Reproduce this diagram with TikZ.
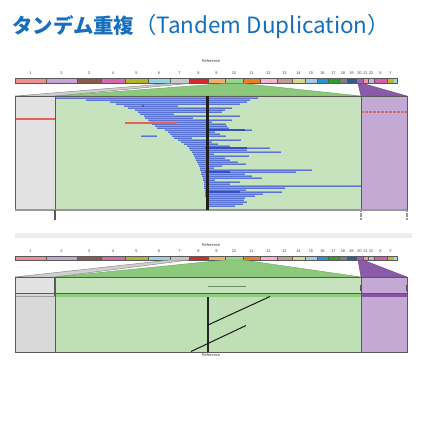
\documentclass[tikz,border=0pt]{standalone}
\usepackage{fontspec}
\newfontfamily\jpfont{Noto Sans CJK JP}
\newfontfamily\tinyfont{Liberation Sans}
\definecolor{titleblue}{RGB}{22,110,190}
\definecolor{c1}{HTML}{F08E8E}
\definecolor{c2}{HTML}{C4A5D4}
\definecolor{c3}{HTML}{8C5A4A}
\definecolor{c4}{HTML}{D768B0}
\definecolor{c5}{HTML}{B4B42A}
\definecolor{c6}{HTML}{92D5E0}
\definecolor{c7}{HTML}{C8C8C8}
\definecolor{c8}{HTML}{D42A2A}
\definecolor{c9}{HTML}{F5AE6A}
\definecolor{c10}{HTML}{96D58A}
\definecolor{c11}{HTML}{EE7F1E}
\definecolor{c12}{HTML}{F5B5D0}
\definecolor{c13}{HTML}{C09C92}
\definecolor{c14}{HTML}{D8D88A}
\definecolor{c15}{HTML}{A9C6E6}
\definecolor{c16}{HTML}{2496CF}
\definecolor{c17}{HTML}{2CA02C}
\definecolor{c18}{HTML}{7F7F7F}
\definecolor{c19}{HTML}{2A5F96}
\definecolor{c20}{HTML}{9368BC}
\definecolor{c21}{HTML}{FF9696}
\definecolor{c22}{HTML}{C9B2D8}
\definecolor{cX}{HTML}{D65CA6}
\definecolor{cY}{HTML}{BCBD22}
\definecolor{cMT}{HTML}{9DDCE8}
\definecolor{boxgray}{HTML}{E2E2E2}
\definecolor{boxgrayd}{HTML}{D8D8D8}
\definecolor{boxgreen}{HTML}{C6E3BE}
\definecolor{boxgreend}{HTML}{BFE0B5}
\definecolor{boxpurple}{HTML}{C3A9D4}
\definecolor{trigray}{HTML}{CFCFCF}
\definecolor{trigreen}{HTML}{8DC97C}
\definecolor{tripurple}{HTML}{8A5BA9}
\definecolor{bandgreen}{HTML}{8FCC7E}
\definecolor{bandpurple}{HTML}{8753A8}
\definecolor{barblue}{RGB}{88,114,214}
\definecolor{barlight}{RGB}{140,162,224}
\definecolor{bardark}{RGB}{52,80,195}
\definecolor{redline}{HTML}{E8605A}
\definecolor{outl}{HTML}{5A5A5A}
\definecolor{sepgray}{HTML}{EDEDED}
\newcommand\chrbar[3]{%
  \foreach \xa/\xb/\nm/\col in {15/46/1/c1,46/77/2/c2,77/101/3/c3,101/125/4/c4,125/148/5/c5,148/170/6/c6,170/189/7/c7,189/208/8/c8,208/225/9/c9,225/243/10/c10,243/260/11/c11,260/277/12/c12,277/292/13/c13,292/305/14/c14,305/317/15/c15,317/328/16/c16,328/339/17/c17,339/347/18/c18,347/356/19/c19,356/363/20/c20,363/368/21/c21,368/374/22/c22,374/387/X/cX,387/394/Y/cY}{%
    \fill[\col] (\xa,#1) rectangle (\xb,#2);
    \draw[chrline] (\xa,#1) -- (\xa,#2);
    \node[chrlab] (lab#3\nm) at ({(\xa+\xb)/2},#3) {\nm};
  }
  \fill[cMT] (394,#1) rectangle (397,#2);
  \draw[chrline] (15,#1) rectangle (397,#2);
}
\begin{document}
\begin{tikzpicture}[x=1bp,y=-1bp,
  chrline/.style={draw=outl,line width=0.5bp},
  chrlab/.style={font=\tinyfont\fontsize{4}{4}\selectfont,text=black!70,inner sep=0pt},
  reflab/.style={font=\tinyfont\fontsize{4}{4}\selectfont,text=black!75,inner sep=0pt},
  boxline/.style={draw=outl,line width=0.8bp},
  readband/.style={draw=barlight,line width=1.8bp},
  read/.style={draw=barblue,line width=1.0bp},
  readdark/.style={draw=bardark,line width=1.8bp},
  tick/.style={draw=outl,line width=1.2bp}]
\useasboundingbox (0,0) rectangle (422,430);
% title
\node[anchor=west,text=titleblue,inner sep=0pt] (title) at (12,26)
  {\jpfont\fontsize{20.5}{21}\selectfont\bfseries タンデム重複\mdseries\fontsize{22.5}{23}\selectfont（Tandem Duplication）};

% ================= panel 1 =================
\node[reflab] (ref1) at (211,61) {Reference};
\chrbar{78.5}{83.5}{73}
% trapezoids
\filldraw[fill=trigray,draw=black!45,line width=0.5bp] (170,83.5) -- (189,83.5) -- (55,96) -- (15,96) -- cycle;
\filldraw[fill=trigreen,draw=trigreen!80!black,line width=0.4bp] (225,83.5) -- (243,83.5) -- (361,96) -- (55,96) -- cycle;
\filldraw[fill=tripurple,draw=tripurple!80!black,line width=0.4bp] (358,83.5) -- (363,83.5) -- (407,96) -- (361,96) -- cycle;
% boxes
\fill[boxgray] (15,96) rectangle (55,210);
\fill[boxgreen] (55,96) rectangle (361,210);
\fill[boxpurple] (361,96) rectangle (407,210);
% red lines
\draw[redline,line width=1.6bp] (15,119) -- (55,119);
\draw[redline,line width=1.6bp,dash pattern=on 3bp off 1bp] (361,112) -- (407,112);
% reads
\foreach \yy/\xa/\xb in {98/55/258,100/86/250,102/110/247,104/116/240,106/124/178,108/128/232,110/135/225,112/138/222,114/140/174,116/144/240,118/145/193,120/148/232,122/150/212,124/152/226,126/155/227,128/157/229,130/165/252,132/168/215,134/170/220,136/141/157,136/172/226,138/174/192,140/178/241,142/181/212,144/184/218,146/187/230,148/189/270,150/190/247,152/192/281,154/193/214,156/194/249,158/195/225,160/196/230,162/197/238,164/198/246,166/199/222,168/200/214,170/200/312,172/201/296,174/201/245,176/202/252,178/203/262,180/203/215,182/204/240,184/204/230,186/204/361,188/204/285,190/205/246,192/205/282,194/205/263,196/205/255,198/206/245,200/206/244,202/206/247,204/206/243,206/206/235}
  {\draw[readband] (\xa,\yy) -- (\xb,\yy);
   \draw[read] (\xa,\yy+0.25) -- (\xb,\yy+0.25);}
\draw[readdark] (205,148) -- (247,148);
\draw[readdark] (208,130) -- (245,130);
\draw[readdark] (205,172) -- (230,172);
\draw[readdark] (207,192) -- (240,192);
\draw[draw=redline,line width=1.6bp] (125,123) -- (177,123);
\fill[purple!70!blue] (143,106) circle (0.9bp);
% outlines
\draw[boxline] (15,96) rectangle (407,210);
\draw[boxline] (55,96) -- (55,210);
\draw[boxline] (361,96) -- (361,210);
\draw[draw=black!40,line width=1.5bp] (15,210) -- (407,210);
% black reference line
\draw[draw=black!88,line width=3bp] (207.5,96) -- (207.5,210);
% ticks below
\draw[tick] (55,210) -- (55,220);
\draw[tick,draw=black!40,dash pattern=on 2bp off 0.6bp] (361,210) -- (361,220);
\draw[tick,draw=black!40,dash pattern=on 2bp off 0.6bp] (407,210) -- (407,220);

% separator
\fill[sepgray] (15,232.5) rectangle (412,237.5);

% ================= panel 2 =================
\node[reflab] (ref2) at (211,245) {Reference};
\chrbar{256.5}{260}{251}
\filldraw[fill=trigray,draw=black!45,line width=0.5bp] (170,260) -- (189,260) -- (55,277) -- (15,277) -- cycle;
\filldraw[fill=trigreen,draw=trigreen!80!black,line width=0.4bp] (225,260) -- (243,260) -- (361,277) -- (55,277) -- cycle;
\filldraw[fill=tripurple,draw=tripurple!80!black,line width=0.4bp] (358,260) -- (363,260) -- (407,277) -- (361,277) -- cycle;
% boxes upper and lower
\fill[boxgray] (15,277) rectangle (55,293);
\fill[boxgrayd] (15,293) rectangle (55,352);
\fill[boxgreen] (55,277) rectangle (361,293);
\fill[boxgreend] (55,297) rectangle (361,352);
\fill[boxpurple] (361,277) rectangle (407,352);
% bands
\fill[bandgreen] (55,293) rectangle (361,297);
\fill[bandpurple] (361,293) rectangle (407,297);
\draw[draw=outl,line width=0.6bp] (15,293) -- (407,293);
\draw[draw=outl!60,line width=0.5bp] (15,296.5) -- (55,296.5);
\draw[draw=bandgreen!70!black,line width=0.6bp] (208,286) -- (246,286);
% outlines
\draw[boxline] (15,277) rectangle (407,352);
\draw[boxline] (55,277) -- (55,352);
\draw[boxline] (361,277) -- (361,352);
\draw[tick] (55,277) -- (55,296);
\draw[tick] (361,285) -- (361,291);
\draw[tick] (407,285) -- (407,291);
% reference line and duplication connectors
\coordinate (rtop) at (208,297);
\coordinate (rbot) at (208,352);
\coordinate (d1a) at (208,325);
\coordinate (d1b) at (270,296.5);
\coordinate (d2a) at (191,351.5);
\coordinate (d2b) at (246,325.5);
\draw[draw=black!85,line width=2.6bp] (rtop) -- (rbot);
\draw[draw=black!90,line width=1bp] (d1a) -- (d1b);
\draw[draw=black!90,line width=1bp] (d2a) -- (d2b);
\node[reflab] (ref3) at (211,355.5) {Reference};
\end{tikzpicture}
\end{document}
